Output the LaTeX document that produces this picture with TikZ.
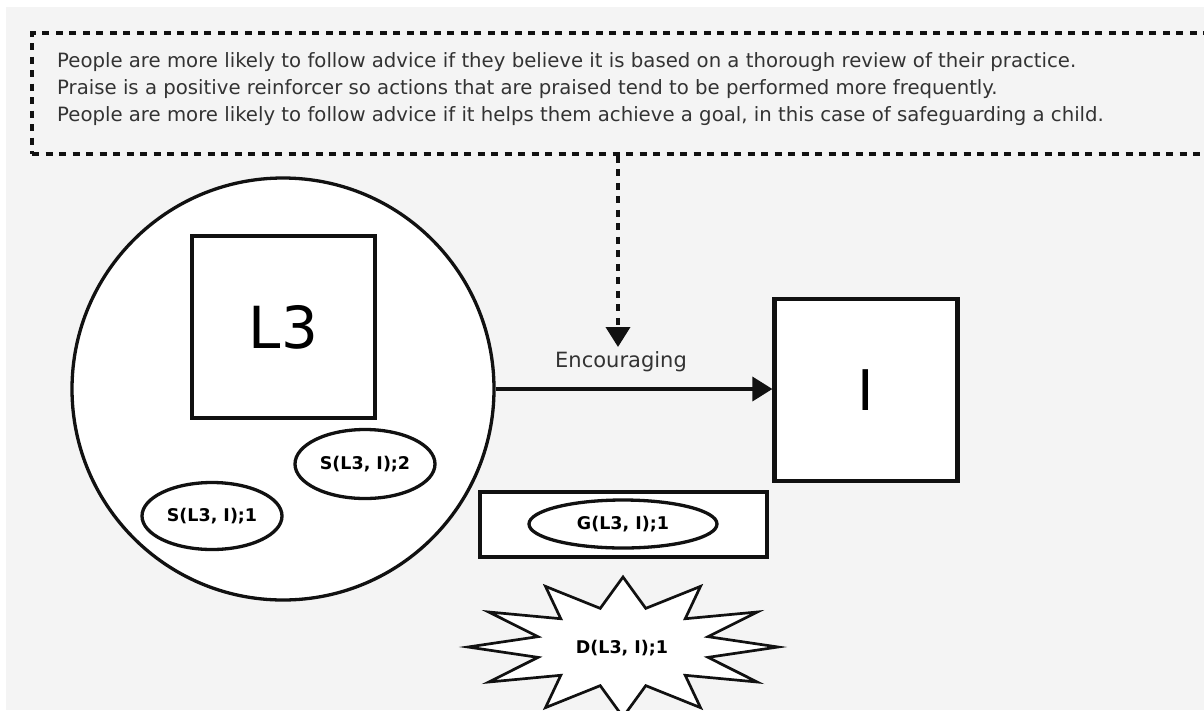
\documentclass[tikz,border=0pt]{standalone}
\usepackage{fontspec}
\setmainfont{DejaVu Sans}
\usetikzlibrary{arrows.meta,shapes.geometric}
\definecolor{canvas}{HTML}{F4F4F4}
\definecolor{ink}{HTML}{111111}
\definecolor{prose}{HTML}{333333}
\tikzset{
  outline/.style={draw=ink, fill=white, line width=3.3pt},
  squarebox/.style={outline, line width=4.2pt, minimum width=183pt, minimum height=182pt, inner sep=0pt},
  oval/.style={outline, ellipse, inner sep=0pt, font=\fontsize{17.5}{20}\selectfont\bfseries},
  notebox/.style={draw=ink, line width=3.8pt, dash pattern=on 7pt off 6.5pt, inner sep=0pt},
  prosetext/.style={anchor=base west, text=prose, inner sep=0pt, font=\fontsize{19.7}{22}\selectfont},
  link/.style={draw=ink, line width=3.5pt, -{Triangle[length=20pt,width=24pt]}},
  dashlink/.style={link, line width=3.8pt, dash pattern=on 7pt off 6.5pt},
}
\begin{document}
\begin{tikzpicture}[x=1pt, y=-1pt]
\clip (0,0) rectangle (1204,710);
\fill[white] (0,0) rectangle (1204,710);
\fill[canvas] (6,7) rectangle (1204,710);

% notes panel (runs past the right edge)
\node[notebox, minimum width=1190pt, minimum height=121pt] (notes) at (627,93.5) {};
\node[prosetext] (t1) at (57,67) {People are more likely to follow advice if they believe it is based on a thorough review of their practice.};
\node[prosetext] (t2) at (57,94) {Praise is a positive reinforcer so actions that are praised tend to be performed more frequently.};
\node[prosetext] (t3) at (57,121) {People are more likely to follow advice if it helps them achieve a goal, in this case of safeguarding a child.};

% agent L3 with its properties
\node[outline, circle, minimum size=422pt, inner sep=0pt] (circ) at (283,389) {};
\node[squarebox, font=\fontsize{58}{58}\selectfont] (L3) at (283.5,327) {L3};
\node[oval, minimum width=140pt, minimum height=69pt] (s2) at (365,464) {S(L3, I);2};
\node[oval, minimum width=140pt, minimum height=67pt] (s1) at (212,516) {S(L3, I);1};

% target I
\node[squarebox, font=\fontsize{56}{56}\selectfont] (I) at (866,390) {I};

% relation
\draw[link] (circ.east) -- (circ.east -| I.west);
\node[font=\fontsize{21}{23}\selectfont, text=prose, inner sep=0pt] (enc) at (621,362) {Encouraging};
\coordinate (tip) at (618,347);
\draw[dashlink] (notes.south -| tip) -- (tip);

% goal
\node[outline, line width=4pt, minimum width=287pt, minimum height=65pt, inner sep=0pt] (gbox) at (623.5,524.5) {};
\node[oval, minimum width=188pt, minimum height=48pt] (g1) at (623,524) {G(L3, I);1};

% danger burst
\draw[outline, line width=2.7pt, line join=miter]
  ({623+88*cos(75)},{647-40*sin(75)})
  \foreach \k in {0,...,11} {
    -- ({623+155*cos(90+30*\k)},{647-70*sin(90+30*\k)})
    -- ({623+88*cos(105+30*\k)},{647-40*sin(105+30*\k)})
  } -- cycle;
\node[font=\fontsize{17.5}{20}\selectfont\bfseries, inner sep=0pt] (d1) at (622,648) {D(L3, I);1};
\end{tikzpicture}
\end{document}
